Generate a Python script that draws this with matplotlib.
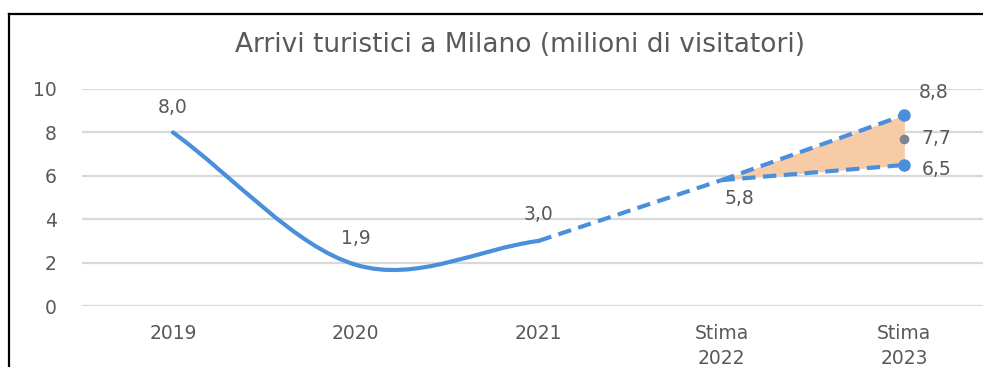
import numpy as np
import matplotlib.pyplot as plt
from matplotlib.path import Path
from matplotlib.patches import PathPatch
from matplotlib.lines import Line2D

plt.rcParams['font.family'] = ['DejaVu Sans']

# data
categories = ['2019', '2020', '2021', 'Stima\n2022', 'Stima\n2023']
actual = [8.0, 1.9, 3.0]             # 2019-2021, smoothed solid line
estimate_path = [3.0, 5.8]           # 2021 -> Stima 2022
high_2023 = 8.8
mid_2023 = 7.7
low_2023 = 6.5

BLUE = '#4a8fdb'
GREY_TXT = '#595959'

fig = plt.figure(figsize=(9.83, 3.67), dpi=100)
ax = fig.add_axes([82 / 983, 61 / 367, 901 / 983, 217 / 367])
ax.set_xlim(-0.497, 4.43)
ax.set_ylim(0, 10)

for spine in ax.spines.values():
    spine.set_visible(False)
ax.set_yticks(np.arange(0, 11, 2))
ax.yaxis.grid(True, color='#d9d9d9', linewidth=1.6)
ax.set_axisbelow(True)
ax.tick_params(length=0, labelsize=13.5, labelcolor=GREY_TXT)
ax.tick_params(axis='y', pad=18)
ax.tick_params(axis='x', pad=13)
ax.set_xticks(range(len(categories)))
ax.set_xticklabels(categories, linespacing=1.4)

# smoothed solid line (Excel-like bezier through the points)
xs = np.arange(len(actual), dtype=float)
pts = np.column_stack([xs, actual])
verts = [tuple(pts[0])]
codes = [Path.MOVETO]
n = len(pts)
for i in range(n - 1):
    p0 = pts[i - 1] if i > 0 else pts[i]
    p1, p2 = pts[i], pts[i + 1]
    p3 = pts[i + 2] if i + 2 < n else pts[i + 1]
    t1 = (p2 - p0) / (2 if i > 0 else 1)
    t2 = (p3 - p1) / (2 if i + 2 < n else 1)
    verts += [tuple(p1 + t1 / 3), tuple(p2 - t2 / 3), tuple(p2)]
    codes += [Path.CURVE4] * 3
ax.add_patch(PathPatch(Path(verts, codes), fill=False, edgecolor=BLUE,
                       linewidth=3, capstyle='round', zorder=3))

# estimates
dash = dict(color=BLUE, linewidth=3, linestyle=(0, (3.2, 1.8)), zorder=3)
ax.plot([2, 3], estimate_path, **dash)
ax.fill_between([3, 4], [estimate_path[1], low_2023], [estimate_path[1], high_2023],
                color='#f8cba7', linewidth=0, zorder=2)
ax.plot([3, 4], [estimate_path[1], high_2023], **dash)
ax.plot([3, 4], [estimate_path[1], low_2023], **dash)
ax.plot([4, 4], [high_2023, low_2023], 'o', color=BLUE, markersize=8, zorder=4)
ax.plot([4], [mid_2023], 'o', color='#7d8592', markersize=6, zorder=4)


def fmt(v):
    return f'{v:.1f}'.replace('.', ',')


# data labels
lab = dict(fontsize=13.5, color=GREY_TXT, ha='center', va='center',
           textcoords='offset points')
for x, v, dy in zip(xs, actual, [18, 19, 19]):
    ax.annotate(fmt(v), (x, v), xytext=(0, dy), **lab)
ax.annotate(fmt(estimate_path[1]), (3, estimate_path[1]), xytext=(13, -13), **lab)
ax.annotate(fmt(high_2023), (4, high_2023), xytext=(21, 16.5), **lab)
ax.annotate(fmt(mid_2023), (4, mid_2023), xytext=(23, 0), **lab)
ax.annotate(fmt(low_2023), (4, low_2023), xytext=(23, -3), **lab)

fig.text(520 / 983, 1 - 45 / 367, 'Arrivi turistici a Milano (milioni di visitatori)',
         ha='center', va='center', fontsize=19, color=GREY_TXT)

# chart frame (top and left edges visible)
fig.add_artist(Line2D([8.5 / 983, 1.01], [1 - 13.5 / 367] * 2, color='black', linewidth=1.6))
fig.add_artist(Line2D([8.5 / 983] * 2, [-0.01, 1 - 13.5 / 367], color='black', linewidth=1.6))

fig.savefig('out.png', dpi=100)
